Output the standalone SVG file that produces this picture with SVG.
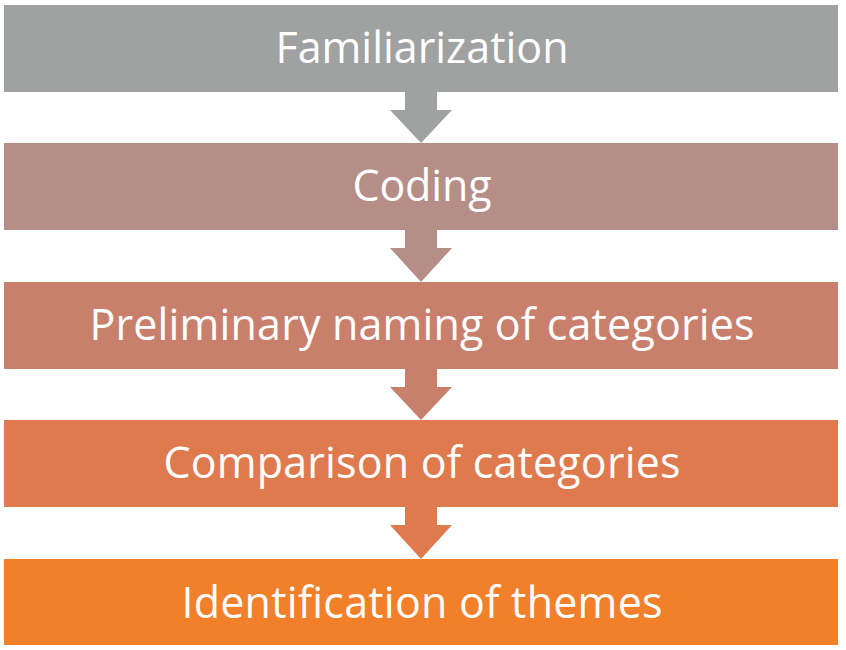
<svg xmlns="http://www.w3.org/2000/svg" width="846" height="650" viewBox="0 0 846 650">
<style>
.lbl{font-family:"Open Sans",Lato,"Liberation Sans",sans-serif;font-size:43px;fill:#ffffff;text-anchor:middle}
</style>
<rect width="846" height="650" fill="#ffffff"/>
<g id="connectors">
<path d="M405,92 H437 V110 H452 L421,143 L390,110 H405 Z" fill="#A0A2A1"/>
<path d="M405,230 H437 V248 H452 L421,282 L390,248 H405 Z" fill="#B58E87"/>
<path d="M405,369 H437 V387 H452 L421,420 L390,387 H405 Z" fill="#C8806D"/>
<path d="M405,507 H437 V525 H452 L421,559 L390,525 H405 Z" fill="#DE7A4E"/>
</g>
<g id="n1"><rect x="4" y="5" width="834" height="87" fill="#A0A2A1"/><text class="lbl" x="422" y="63" textLength="293">Familiarization</text></g>
<g id="n2"><rect x="4" y="143" width="834" height="87" fill="#B58E87"/><text class="lbl" x="422" y="201" textLength="139">Coding</text></g>
<g id="n3"><rect x="4" y="282" width="834" height="87" fill="#C8806D"/><text class="lbl" x="422" y="340" textLength="665">Preliminary naming of categories</text></g>
<g id="n4"><rect x="4" y="420" width="834" height="87" fill="#DE7A4E"/><text class="lbl" x="422" y="478" textLength="517">Comparison of categories</text></g>
<g id="n5"><rect x="4" y="559" width="834" height="86" fill="#F27F2A"/><text class="lbl" x="422" y="618" textLength="481">Identification of themes</text></g>
</svg>
